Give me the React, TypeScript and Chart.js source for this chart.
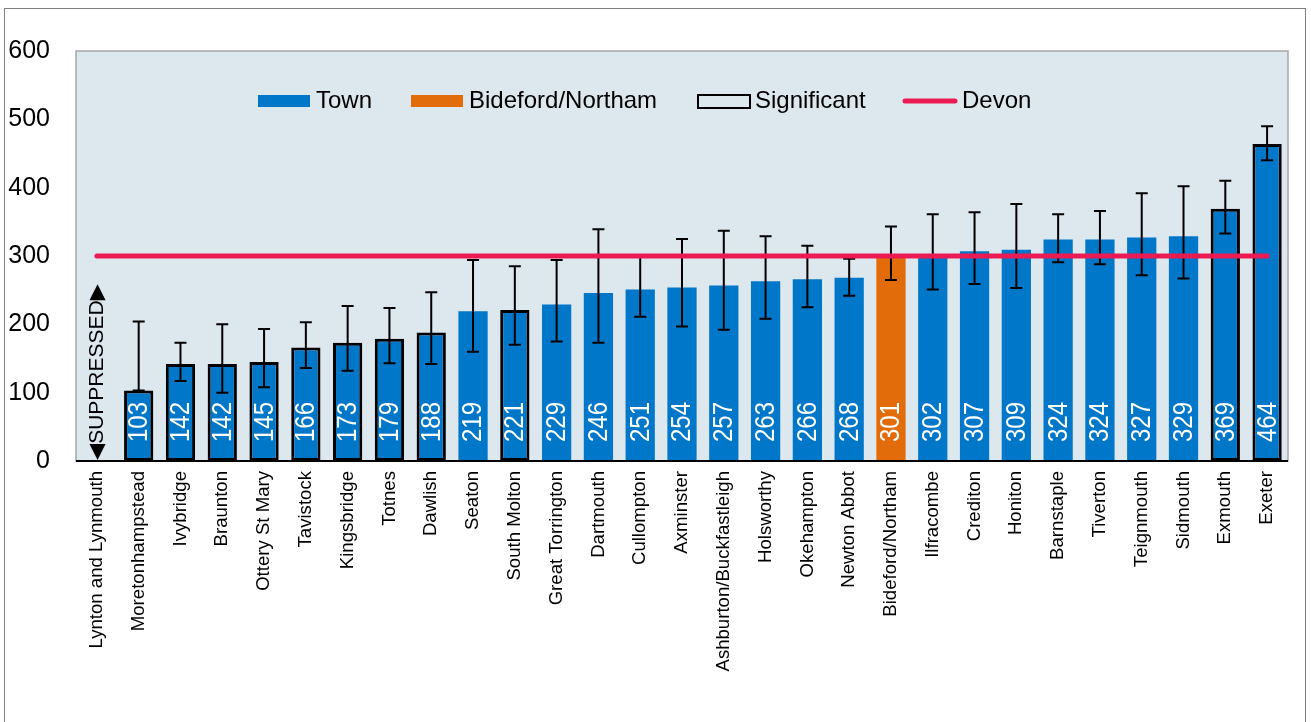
import React, { useEffect, useRef } from "react";
import { Chart, registerables } from "chart.js";

Chart.register(...registerables);

const towns: string[] = [
  "Lynton and Lynmouth", "Moretonhampstead", "Ivybridge", "Braunton", "Ottery St Mary",
  "Tavistock", "Kingsbridge", "Totnes", "Dawlish", "Seaton", "South Molton",
  "Great Torrington", "Dartmouth", "Cullompton", "Axminster", "Ashburton/Buckfastleigh",
  "Holsworthy", "Okehampton", "Newton Abbot", "Bideford/Northam", "Ilfracombe",
  "Crediton", "Honiton", "Barnstaple", "Tiverton", "Teignmouth", "Sidmouth",
  "Exmouth", "Exeter",
];

const values: (number | null)[] = [
  null, 103, 142, 142, 145, 166, 173, 179, 188, 219, 221, 229, 246, 251, 254, 257,
  263, 266, 268, 301, 302, 307, 309, 324, 324, 327, 329, 369, 464,
];

const lowerCI: (number | null)[] = [
  null, 103, 117, 100, 108, 136, 132, 143, 142, 160, 170, 175, 173, 211, 197, 192,
  208, 225, 242, 265, 251, 259, 253, 291, 288, 272, 267, 333, 440,
];

const upperCI: (number | null)[] = [
  null, 204, 173, 200, 193, 203, 227, 224, 247, 294, 285, 294, 339, 300, 325, 337,
  329, 315, 296, 343, 361, 364, 376, 361, 366, 392, 402, 410, 490,
];

const significant: boolean[] = [
  false, true, true, true, true, true, true, true, true, false, true, false, false,
  false, false, false, false, false, false, false, false, false, false, false, false,
  false, false, true, true,
];

const highlightTown = "Bideford/Northam";
const devonValue = 300;
const yTicks: number[] = [0, 100, 200, 300, 400, 500, 600];
const suppressedLabel = "\u25C0SUPPRESSED\u25B6";

const BLUE = "#0077C8";
const ORANGE = "#E36C0A";
const RED = "#EB1A52";
const PLOT_BG = "#DDE7EE";
const FONT = "'Liberation Sans', Arial, 'DejaVu Sans', sans-serif";

export default function App() {
  const ref = useRef<HTMLCanvasElement | null>(null);

  useEffect(() => {
    const canvas = ref.current;
    if (!canvas) return;

    const barColors = towns.map((t) => (t === highlightTown ? ORANGE : BLUE));
    const borderColors = significant.map((s) => (s ? "#000000" : "rgba(0,0,0,0)"));
    const borderWidths = significant.map((s) => (s ? 3 : 0));

    const bgPlugin = {
      id: "plotBg",
      beforeDraw(chart: any) {
        const { ctx, chartArea: a } = chart;
        ctx.save();
        ctx.fillStyle = PLOT_BG;
        ctx.fillRect(a.left, a.top, a.right - a.left, a.bottom - a.top);
        ctx.strokeStyle = "#A6A6A6";
        ctx.lineWidth = 1.5;
        ctx.strokeRect(a.left, a.top, a.right - a.left, a.bottom - a.top);
        ctx.restore();
      },
    };

    const errPlugin = {
      id: "errorBars",
      afterDatasetDraw(chart: any, args: any) {
        if (args.index !== 0) return;
        const { ctx } = chart;
        const xs = chart.scales.x;
        const ys = chart.scales.y;
        ctx.save();
        ctx.strokeStyle = "#000";
        ctx.lineWidth = 2;
        towns.forEach((_, i) => {
          const lo = lowerCI[i];
          const hi = upperCI[i];
          if (lo == null || hi == null) return;
          const x = xs.getPixelForValue(i);
          const yl = ys.getPixelForValue(lo);
          const yh = ys.getPixelForValue(hi);
          ctx.beginPath();
          ctx.moveTo(x, yl);
          ctx.lineTo(x, yh);
          ctx.moveTo(x - 6, yl);
          ctx.lineTo(x + 6, yl);
          ctx.moveTo(x - 6, yh);
          ctx.lineTo(x + 6, yh);
          ctx.stroke();
        });
        ctx.restore();
      },
    };

    const overlayPlugin = {
      id: "overlay",
      afterDatasetsDraw(chart: any) {
        const { ctx, chartArea: a } = chart;
        const xs = chart.scales.x;
        const ys = chart.scales.y;
        ctx.save();
        // x axis line
        ctx.strokeStyle = "#000";
        ctx.lineWidth = 2;
        ctx.beginPath();
        ctx.moveTo(a.left, a.bottom);
        ctx.lineTo(a.right, a.bottom);
        ctx.stroke();

        // bar value labels
        ctx.fillStyle = "#FFFFFF";
        ctx.font = `27px ${FONT}`;
        ctx.textAlign = "left";
        ctx.textBaseline = "middle";
        towns.forEach((_, i) => {
          const v = values[i];
          if (v == null) return;
          const x = xs.getPixelForValue(i);
          ctx.save();
          ctx.translate(x + 1, ys.getPixelForValue(0) - 19);
          ctx.rotate(-Math.PI / 2);
          ctx.scale(0.89, 1);
          ctx.fillText(String(v), 0, 0);
          ctx.restore();
        });

        // suppressed label
        values.forEach((v, i) => {
          if (v != null) return;
          const x = xs.getPixelForValue(i);
          ctx.save();
          ctx.fillStyle = "#000";
          ctx.font = `21px ${FONT}`;
          ctx.translate(x, ys.getPixelForValue(0) - 1);
          ctx.rotate(-Math.PI / 2);
          ctx.textAlign = "left";
          ctx.textBaseline = "middle";
          ctx.fillText(suppressedLabel, 0, 0);
          ctx.restore();
        });

        // legend
        const ly = 101;
        ctx.font = `24px ${FONT}`;
        ctx.textAlign = "left";
        ctx.textBaseline = "middle";
        ctx.fillStyle = BLUE;
        ctx.fillRect(258, ly - 6, 52, 12);
        ctx.fillStyle = "#000";
        ctx.fillText("Town", 316, ly);
        ctx.fillStyle = ORANGE;
        ctx.fillRect(411, ly - 6, 52, 12);
        ctx.fillStyle = "#000";
        ctx.fillText("Bideford/Northam", 469, ly);
        ctx.strokeStyle = "#000";
        ctx.lineWidth = 2;
        ctx.strokeRect(698, ly - 6, 52, 13);
        ctx.fillText("Significant", 755, ly);
        ctx.strokeStyle = RED;
        ctx.lineWidth = 5;
        ctx.lineCap = "round";
        ctx.beginPath();
        ctx.moveTo(905, ly);
        ctx.lineTo(955, ly);
        ctx.stroke();
        ctx.fillText("Devon", 962, ly);
        ctx.restore();
      },
    };

    const chart = new Chart(canvas, {
      type: "bar",
      data: {
        labels: towns,
        datasets: [
          {
            type: "bar",
            label: "Town",
            data: values as any,
            backgroundColor: barColors,
            borderColor: borderColors,
            borderWidth: borderWidths,
            borderSkipped: false,
            categoryPercentage: 1,
            barPercentage: 0.7,
            order: 2,
          },
          {
            type: "line",
            label: "Devon",
            data: towns.map(() => devonValue),
            borderColor: RED,
            borderWidth: 5,
            pointRadius: 0,
            borderCapStyle: "round",
            fill: false,
            order: 1,
          } as any,
        ],
      },
      options: {
        responsive: false,
        animation: false,
        layout: { padding: { left: 0, right: 23, top: 51, bottom: 0 } },
        plugins: {
          legend: { display: false },
          tooltip: { enabled: false },
        },
        scales: {
          x: {
            offset: true,
            grid: { display: false, drawTicks: false },
            border: { display: false },
            ticks: {
              autoSkip: false,
              maxRotation: 90,
              minRotation: 90,
              padding: 10,
              color: "#000",
              font: { family: FONT, size: 18.6 },
            },
            afterFit(s: any) {
              s.height = 261;
            },
          },
          y: {
            min: 0,
            max: 600,
            afterBuildTicks(s: any) {
              s.ticks = yTicks.map((v) => ({ value: v }));
            },
            grid: { display: false, drawTicks: false },
            border: { display: false },
            ticks: {
              padding: 26,
              color: "#000",
              font: { family: FONT, size: 25 },
            },
            afterFit(s: any) {
              s.width = 76;
            },
          },
        },
      },
      plugins: [bgPlugin, errPlugin, overlayPlugin],
    });

    return () => chart.destroy();
  }, []);

  return (
    <div style={{ position: "absolute", left: 0, top: 0, width: 1311, height: 722, overflow: "hidden", background: "#fff" }}>
      <div
        style={{
          position: "absolute",
          left: 4,
          top: 8,
          width: 1302,
          height: 730,
          border: "1px solid #7F7F7F",
          boxSizing: "border-box",
        }}
      />
      <canvas ref={ref} width={1311} height={722} style={{ position: "absolute", left: 0, top: 0, width: 1311, height: 722 }} />
    </div>
  );
}
